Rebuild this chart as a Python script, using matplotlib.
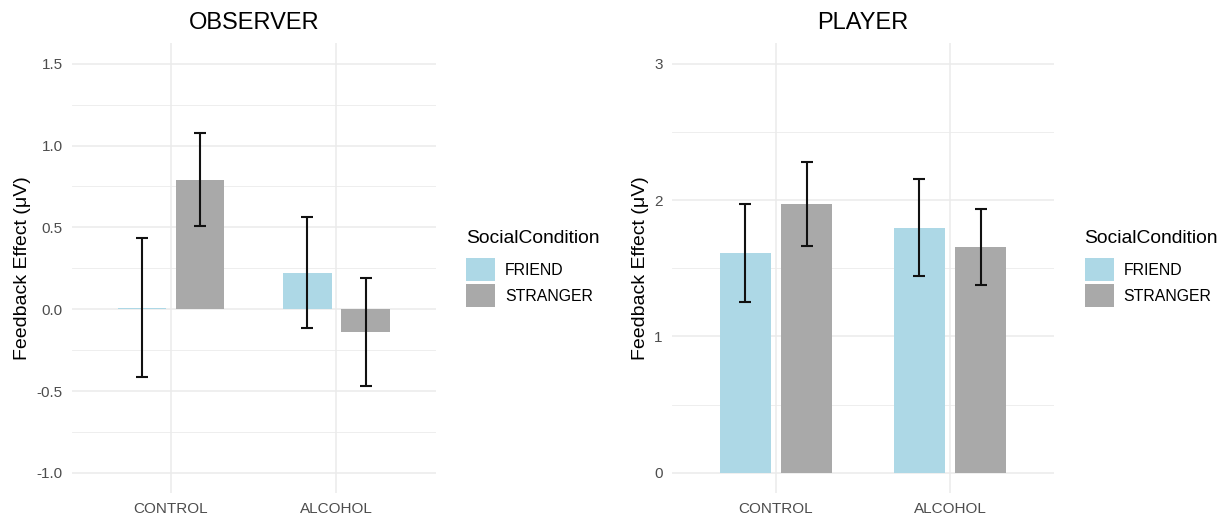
import matplotlib
matplotlib.use('Agg')
import matplotlib.pyplot as plt
from matplotlib.patches import Patch
import numpy as np

plt.rcParams['font.family'] = ['Liberation Sans', 'DejaVu Sans']

# condiciones y grupos
groups = ['CONTROL', 'ALCOHOL']
social = ['FRIEND', 'STRANGER']
colores = ['#ADD8E6', '#A9A9A9']

# OBSERVER: medias y limites del error
obs_mean = {'FRIEND': [0.01, 0.224], 'STRANGER': [0.791, -0.140]}
obs_lo = {'FRIEND': [-0.415, -0.114], 'STRANGER': [0.506, -0.472]}
obs_hi = {'FRIEND': [0.437, 0.566], 'STRANGER': [1.078, 0.189]}

# PLAYER: medias y limites del error
ply_mean = {'FRIEND': [1.613, 1.796], 'STRANGER': [1.974, 1.659]}
ply_lo = {'FRIEND': [1.254, 1.446], 'STRANGER': [1.666, 1.378]}
ply_hi = {'FRIEND': [1.974, 2.155], 'STRANGER': [2.280, 1.938]}

W, H = 1227, 519
fig = plt.figure(figsize=(W / 100, H / 100), dpi=100)


def px_axes(x0, y0, x1, y1):
    return fig.add_axes([x0 / W, 1 - y1 / H, (x1 - x0) / W, (y1 - y0) / H])


def panel(ax, titulo, mean, lo, hi, ylim, yticks, yminor, yfmt):
    x = np.arange(1, len(groups) + 1)
    off = 0.176
    ancho = 0.293
    for i, s in enumerate(social):
        xs = x + (i * 2 - 1) * off
        ax.bar(xs, mean[s], width=ancho, color=colores[i], zorder=2)
        m = np.array(mean[s])
        err = [m - np.array(lo[s]), np.array(hi[s]) - m]
        ax.errorbar(xs, m, yerr=err, fmt='none', ecolor='#111111',
                    elinewidth=1.5, capsize=4.4, capthick=1.5, zorder=3)
    ax.set_xlim(0.4, 2.6)
    ax.set_ylim(*ylim)
    ax.set_xticks(x)
    ax.set_xticklabels(groups)
    ax.set_yticks(yticks)
    ax.set_yticklabels([yfmt.format(v) for v in yticks])
    ax.set_yticks(yminor, minor=True)
    ax.grid(True, which='major', color='#EBEBEB', lw=1.1, zorder=0)
    ax.grid(True, which='minor', axis='y', color='#EBEBEB', lw=0.6, zorder=0)
    ax.set_axisbelow(True)
    for sp in ax.spines.values():
        sp.set_visible(False)
    ax.tick_params(which='both', length=0, labelsize=11, labelcolor='#4D4D4D')
    ax.tick_params(axis='x', pad=6)
    ax.tick_params(axis='y', pad=6.5)
    ax.set_ylabel('Feedback Effect (μV)', fontsize=14, labelpad=4)
    ax.set_title(titulo, fontsize=17, pad=10)


ax1 = px_axes(71.7, 43.3, 435.7, 493.3)
panel(ax1, 'OBSERVER', obs_mean, obs_lo, obs_hi, (-1.125, 1.625),
      [-1.0, -0.5, 0.0, 0.5, 1.0, 1.5], [-0.75, -0.25, 0.25, 0.75, 1.25], '{:.1f}')

ax2 = px_axes(671.7, 43.3, 1054.3, 493.3)
panel(ax2, 'PLAYER', ply_mean, ply_lo, ply_hi, (-0.15, 3.15),
      [0, 1, 2, 3], [0.5, 1.5, 2.5], '{:d}')

handles = [Patch(facecolor=c, edgecolor='none') for c in colores]
for ax, lx in [(ax1, 466.0), (ax2, 1084.5)]:
    leg = ax.legend(handles, social, title='SocialCondition', loc='center left',
                    bbox_to_anchor=(lx / W, 1 - 268.5 / H), bbox_transform=fig.transFigure,
                    frameon=False, fontsize=11.4, title_fontsize=13.9,
                    handlelength=1.85, handleheight=1.85, handletextpad=0.6,
                    labelspacing=0.2, borderpad=0, borderaxespad=0)
    leg._legend_box.align = 'left'
    leg._legend_box.sep = 8

fig.savefig('out.png', dpi=100)
